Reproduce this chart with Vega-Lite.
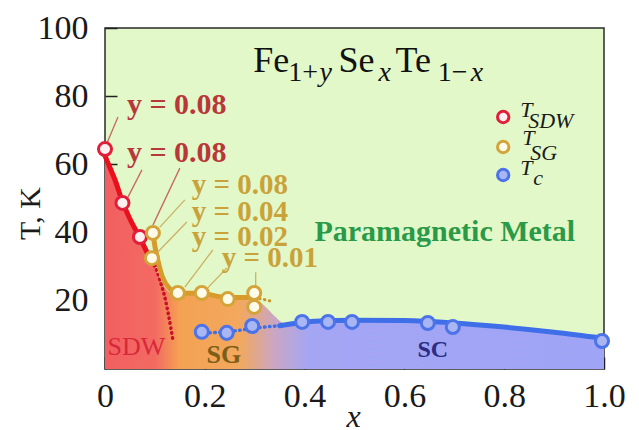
{
  "$schema": "https://vega.github.io/schema/vega-lite/v6.json",
  "width": 499,
  "height": 341,
  "autosize": {"type": "none"},
  "padding": {"left": 105, "top": 28, "right": 35, "bottom": 61},
  "background": "white",
  "config": {
    "view": {"fill": "#e2f8c8", "stroke": "#2a2a2a", "strokeWidth": 1.5},
    "font": "Liberation Serif"
  },
  "datasets": {
    "region": [
      {"x": 0, "T": 63}, {"x": 0.02, "T": 56}, {"x": 0.035, "T": 49.5}, {"x": 0.055, "T": 43},
      {"x": 0.07, "T": 38.5}, {"x": 0.085, "T": 34}, {"x": 0.1, "T": 30}, {"x": 0.112, "T": 26},
      {"x": 0.125, "T": 23}, {"x": 0.14, "T": 22}, {"x": 0.2, "T": 21.8}, {"x": 0.27, "T": 21.5},
      {"x": 0.3, "T": 20.5}, {"x": 0.32, "T": 18.5}, {"x": 0.34, "T": 15.5}, {"x": 0.36, "T": 13.5},
      {"x": 0.4, "T": 13.5}, {"x": 0.45, "T": 14.2}, {"x": 0.55, "T": 14.4}, {"x": 0.65, "T": 14},
      {"x": 0.75, "T": 13}, {"x": 0.85, "T": 11.8}, {"x": 0.95, "T": 10}, {"x": 1.0, "T": 9}
    ],
    "curves": [
      {"c": "sdw", "x": 0, "T": 62.5}, {"c": "sdw", "x": 0.01, "T": 59}, {"c": "sdw", "x": 0.02, "T": 55.5},
      {"c": "sdw", "x": 0.035, "T": 49}, {"c": "sdw", "x": 0.05, "T": 44}, {"c": "sdw", "x": 0.07, "T": 38.5},
      {"c": "sdw", "x": 0.085, "T": 34}, {"c": "sdw", "x": 0.1, "T": 30.5},
      {"c": "sdwdot", "x": 0.1, "T": 30.5}, {"c": "sdwdot", "x": 0.11, "T": 26}, {"c": "sdwdot", "x": 0.12, "T": 21},
      {"c": "sdwdot", "x": 0.127, "T": 16}, {"c": "sdwdot", "x": 0.132, "T": 12}, {"c": "sdwdot", "x": 0.136, "T": 8.5},
      {"c": "sg", "x": 0.096, "T": 40}, {"c": "sg", "x": 0.1, "T": 36}, {"c": "sg", "x": 0.105, "T": 32.5},
      {"c": "sg", "x": 0.115, "T": 27}, {"c": "sg", "x": 0.13, "T": 23.5}, {"c": "sg", "x": 0.146, "T": 22.3},
      {"c": "sg", "x": 0.19, "T": 22.2}, {"c": "sg", "x": 0.246, "T": 21}, {"c": "sg", "x": 0.3, "T": 21},
      {"c": "sgdot", "x": 0.3, "T": 21}, {"c": "sgdot", "x": 0.33, "T": 20},
      {"c": "scdot", "x": 0.19, "T": 10.5}, {"c": "scdot", "x": 0.25, "T": 11}, {"c": "scdot", "x": 0.3, "T": 12},
      {"c": "scdot", "x": 0.35, "T": 12.7},
      {"c": "sc", "x": 0.35, "T": 12.7}, {"c": "sc", "x": 0.42, "T": 14}, {"c": "sc", "x": 0.5, "T": 14.3},
      {"c": "sc", "x": 0.6, "T": 14.2}, {"c": "sc", "x": 0.7, "T": 13.5}, {"c": "sc", "x": 0.8, "T": 12.3},
      {"c": "sc", "x": 0.9, "T": 10.8}, {"c": "sc", "x": 1.0, "T": 9}
    ],
    "leaders": [
      {"g": "sdw", "x": 0.026, "T": 73.9, "x2": 0.004, "T2": 66.3},
      {"g": "sdw", "x": 0.074, "T": 58.4, "x2": 0.046, "T2": 50.4},
      {"g": "sdw", "x": 0.15, "T": 58.9, "x2": 0.096, "T2": 42.2},
      {"g": "sg", "x": 0.16, "T": 49.6, "x2": 0.11, "T2": 41.6},
      {"g": "sg", "x": 0.164, "T": 43.1, "x2": 0.106, "T2": 34.3},
      {"g": "sg", "x": 0.216, "T": 34.9, "x2": 0.16, "T2": 24.0},
      {"g": "sg", "x": 0.244, "T": 29.6, "x2": 0.206, "T2": 23.8},
      {"g": "sg", "x": 0.302, "T": 28.4, "x2": 0.302, "T2": 24.0}
    ],
    "points": [
      {"s": "SDW", "x": 0.0, "T": 64.5}, {"s": "SDW", "x": 0.035, "T": 48.7}, {"s": "SDW", "x": 0.07, "T": 38.7},
      {"s": "SG", "x": 0.096, "T": 39.9}, {"s": "SG", "x": 0.094, "T": 32.5}, {"s": "SG", "x": 0.146, "T": 22.3},
      {"s": "SG", "x": 0.194, "T": 22.3}, {"s": "SG", "x": 0.246, "T": 20.5}, {"s": "SG", "x": 0.299, "T": 22.3},
      {"s": "SG", "x": 0.299, "T": 18.2},
      {"s": "Tc", "x": 0.194, "T": 10.9}, {"s": "Tc", "x": 0.244, "T": 10.6}, {"s": "Tc", "x": 0.295, "T": 12.6},
      {"s": "Tc", "x": 0.395, "T": 13.8}, {"s": "Tc", "x": 0.447, "T": 13.8}, {"s": "Tc", "x": 0.495, "T": 13.8},
      {"s": "Tc", "x": 0.647, "T": 13.5}, {"s": "Tc", "x": 0.697, "T": 12.3}, {"s": "Tc", "x": 0.996, "T": 8.2}
    ],
    "keys": [
      {"s": "SDW", "x": 0.798, "T": 73.9},
      {"s": "SG", "x": 0.798, "T": 65.1},
      {"s": "Tc", "x": 0.798, "T": 56.9}
    ],
    "keyText": [
      {"part": "main", "label": "T", "x": 0.832, "T": 73.9},
      {"part": "sub", "label": "SDW", "x": 0.848, "T": 70.7},
      {"part": "main", "label": "T", "x": 0.836, "T": 65.7},
      {"part": "sub", "label": "SG", "x": 0.852, "T": 61.3},
      {"part": "main", "label": "T", "x": 0.832, "T": 56.9},
      {"part": "sub", "label": "c", "x": 0.858, "T": 54.0}
    ],
    "doping": [
      {"g": "sdw", "label": "y = 0.08", "x": 0.044, "T": 77.4},
      {"g": "sdw", "label": "y = 0.08", "x": 0.044, "T": 63.3},
      {"g": "sg", "label": "y = 0.08", "x": 0.174, "T": 54.0},
      {"g": "sg", "label": "y = 0.04", "x": 0.174, "T": 46.0},
      {"g": "sg", "label": "y = 0.02", "x": 0.174, "T": 38.7},
      {"g": "sg", "label": "y = 0.01", "x": 0.234, "T": 32.5}
    ],
    "formula": [
      {"part": "main", "label": "Fe", "x": 0.297, "T": 87.1},
      {"part": "sub", "label": "1+", "x": 0.367, "T": 84.5},
      {"part": "subi", "label": "y", "x": 0.43, "T": 84.5},
      {"part": "main", "label": "Se", "x": 0.468, "T": 87.1},
      {"part": "subi", "label": "x", "x": 0.548, "T": 84.5},
      {"part": "main", "label": "Te", "x": 0.582, "T": 87.1},
      {"part": "sub", "label": "1\u2212", "x": 0.667, "T": 84.5},
      {"part": "subi", "label": "x", "x": 0.733, "T": 84.5}
    ],
    "phases": [
      {"p": "pm", "label": "Paramagnetic Metal", "x": 0.681, "T": 40.2},
      {"p": "sdw", "label": "SDW", "x": 0.063, "T": 6.5},
      {"p": "sg", "label": "SG", "x": 0.238, "T": 4.1},
      {"p": "sc", "label": "SC", "x": 0.657, "T": 5.6}
    ]
  },
  "encoding": {
    "x": {
      "field": "x", "type": "quantitative",
      "scale": {"domain": [0, 1], "nice": false, "zero": false},
      "axis": {
        "values": [0, 0.2, 0.4, 0.6, 0.8, 1.0],
        "labelExpr": "datum.value == 0 ? '0' : format(datum.value, '.1f')",
        "grid": false, "domain": false,
        "tickSize": -12, "tickColor": "#222", "tickWidth": 1.5,
        "labelFont": "Liberation Serif", "labelFontSize": 34, "labelColor": "#1a1a1a",
        "labelPadding": 22, "labelFlush": false,
        "title": "x", "titleFont": "Liberation Serif", "titleFontSize": 32,
        "titleFontStyle": "italic", "titleFontWeight": "normal", "titleColor": "#1a1a1a",
        "titleX": 248, "titleY": 57, "titleBaseline": "alphabetic", "titleAnchor": "start", "titleAlign": "center"
      }
    },
    "y": {
      "field": "T", "type": "quantitative",
      "scale": {"domain": [0, 100], "nice": false},
      "axis": {
        "values": [20, 40, 60, 80, 100],
        "grid": false, "domain": false,
        "tickSize": -12, "tickColor": "#222", "tickWidth": 1.5,
        "labelFont": "Liberation Serif", "labelFontSize": 34, "labelColor": "#1a1a1a",
        "labelPadding": 29, "labelFlush": false,
        "title": "T, K", "titleFont": "Liberation Serif", "titleFontSize": 30,
        "titleFontWeight": "normal", "titleColor": "#1a1a1a",
        "titleX": -75, "titleY": 185, "titleAngle": -90, "titleAlign": "center", "titleBaseline": "middle", "titleAnchor": "start"
      }
    }
  },
  "layer": [
    {
      "data": {"name": "region"},
      "mark": {
        "type": "area", "interpolate": "monotone",
        "fill": {
          "gradient": "linear", "x1": 0, "y1": 0, "x2": 1, "y2": 0,
          "stops": [
            {"offset": 0, "color": "#f25f60"},
            {"offset": 0.1, "color": "#f36a62"},
            {"offset": 0.15, "color": "#f4a252"},
            {"offset": 0.27, "color": "#f2a85e"},
            {"offset": 0.34, "color": "#c9a6c4"},
            {"offset": 0.41, "color": "#a4a6f4"},
            {"offset": 1, "color": "#a0a4f6"}
          ]
        }
      }
    },
    {
      "data": {"name": "curves"},
      "transform": [{"filter": "datum.c == 'sdw'"}],
      "mark": {"type": "line", "interpolate": "monotone", "color": "#e8101c", "strokeWidth": 5, "strokeCap": "round"}
    },
    {
      "data": {"name": "curves"},
      "transform": [{"filter": "datum.c == 'sdwdot'"}],
      "mark": {"type": "line", "interpolate": "monotone", "color": "#c8102a", "strokeWidth": 3.5, "strokeDash": [0.5, 4.5], "strokeCap": "round"}
    },
    {
      "data": {"name": "curves"},
      "transform": [{"filter": "datum.c == 'sg'"}],
      "mark": {"type": "line", "interpolate": "monotone", "color": "#d99a2c", "strokeWidth": 5, "strokeCap": "round"}
    },
    {
      "data": {"name": "curves"},
      "transform": [{"filter": "datum.c == 'sgdot'"}],
      "mark": {"type": "line", "interpolate": "monotone", "color": "#c9952a", "strokeWidth": 3, "strokeDash": [0.5, 4.5], "strokeCap": "round"}
    },
    {
      "data": {"name": "curves"},
      "transform": [{"filter": "datum.c == 'scdot'"}],
      "mark": {"type": "line", "interpolate": "monotone", "color": "#3e6ee8", "strokeWidth": 3.5, "strokeDash": [0.5, 4.5], "strokeCap": "round"}
    },
    {
      "data": {"name": "curves"},
      "transform": [{"filter": "datum.c == 'sc'"}],
      "mark": {"type": "line", "interpolate": "monotone", "color": "#3e6ee8", "strokeWidth": 5, "strokeCap": "round"}
    },
    {
      "data": {"name": "leaders"},
      "transform": [{"filter": "datum.g == 'sdw'"}],
      "mark": {"type": "rule", "color": "#c46a5c", "strokeWidth": 1.3},
      "encoding": {"x2": {"field": "x2"}, "y2": {"field": "T2"}}
    },
    {
      "data": {"name": "leaders"},
      "transform": [{"filter": "datum.g == 'sg'"}],
      "mark": {"type": "rule", "color": "#cdb064", "strokeWidth": 1.3},
      "encoding": {"x2": {"field": "x2"}, "y2": {"field": "T2"}}
    },
    {
      "data": {"name": "points"},
      "mark": {"type": "point", "shape": "circle", "size": 170, "strokeWidth": 3, "opacity": 1, "filled": false},
      "encoding": {
        "stroke": {"field": "s", "type": "nominal", "scale": {"domain": ["SDW", "SG", "Tc"], "range": ["#e0203a", "#d4a43a", "#4c74e8"]}, "legend": null},
        "fill": {"field": "s", "type": "nominal", "scale": {"domain": ["SDW", "SG", "Tc"], "range": ["#fff0f0", "#fffbe8", "#a9b6f4"]}, "legend": null}
      }
    },
    {
      "data": {"name": "keys"},
      "mark": {"type": "point", "shape": "circle", "size": 130, "strokeWidth": 3, "opacity": 1, "filled": false},
      "encoding": {
        "stroke": {"field": "s", "type": "nominal", "legend": null},
        "fill": {"field": "s", "type": "nominal", "legend": null}
      }
    },
    {
      "data": {"name": "keyText"},
      "transform": [{"filter": "datum.part == 'main'"}],
      "mark": {"type": "text", "align": "left", "baseline": "alphabetic", "font": "Liberation Serif", "fontSize": 22, "fontStyle": "italic", "color": "#1a1a1a"},
      "encoding": {"text": {"field": "label"}}
    },
    {
      "data": {"name": "keyText"},
      "transform": [{"filter": "datum.part == 'sub'"}],
      "mark": {"type": "text", "align": "left", "baseline": "alphabetic", "font": "Liberation Serif", "fontSize": 22, "fontStyle": "italic", "color": "#1a1a1a"},
      "encoding": {"text": {"field": "label"}}
    },
    {
      "data": {"name": "doping"},
      "transform": [{"filter": "datum.g == 'sdw'"}],
      "mark": {"type": "text", "align": "left", "baseline": "middle", "font": "Liberation Serif", "fontSize": 30, "fontWeight": "bold", "color": "#b8373a"},
      "encoding": {"text": {"field": "label"}}
    },
    {
      "data": {"name": "doping"},
      "transform": [{"filter": "datum.g == 'sg'"}],
      "mark": {"type": "text", "align": "left", "baseline": "middle", "font": "Liberation Serif", "fontSize": 29, "fontWeight": "bold", "color": "#c9a33a"},
      "encoding": {"text": {"field": "label"}}
    },
    {
      "data": {"name": "formula"},
      "transform": [{"filter": "datum.part == 'main'"}],
      "mark": {"type": "text", "align": "left", "baseline": "alphabetic", "font": "Liberation Serif", "fontSize": 36, "color": "#111111"},
      "encoding": {"text": {"field": "label"}}
    },
    {
      "data": {"name": "formula"},
      "transform": [{"filter": "datum.part == 'sub'"}],
      "mark": {"type": "text", "align": "left", "baseline": "alphabetic", "font": "Liberation Serif", "fontSize": 28, "color": "#111111"},
      "encoding": {"text": {"field": "label"}}
    },
    {
      "data": {"name": "formula"},
      "transform": [{"filter": "datum.part == 'subi'"}],
      "mark": {"type": "text", "align": "left", "baseline": "alphabetic", "font": "Liberation Serif", "fontSize": 28, "fontStyle": "italic", "color": "#111111"},
      "encoding": {"text": {"field": "label"}}
    },
    {
      "data": {"name": "phases"},
      "transform": [{"filter": "datum.p == 'pm'"}],
      "mark": {"type": "text", "align": "center", "baseline": "middle", "font": "Liberation Serif", "fontSize": 30, "fontWeight": "bold", "color": "#2a9a48"},
      "encoding": {"text": {"field": "label"}}
    },
    {
      "data": {"name": "phases"},
      "transform": [{"filter": "datum.p == 'sdw'"}],
      "mark": {"type": "text", "align": "center", "baseline": "middle", "font": "Liberation Serif", "fontSize": 26, "color": "#d8283c"},
      "encoding": {"text": {"field": "label"}}
    },
    {
      "data": {"name": "phases"},
      "transform": [{"filter": "datum.p == 'sg'"}],
      "mark": {"type": "text", "align": "center", "baseline": "middle", "font": "Liberation Serif", "fontSize": 26, "fontWeight": "bold", "color": "#7d5e18"},
      "encoding": {"text": {"field": "label"}}
    },
    {
      "data": {"name": "phases"},
      "transform": [{"filter": "datum.p == 'sc'"}],
      "mark": {"type": "text", "align": "center", "baseline": "middle", "font": "Liberation Serif", "fontSize": 24, "fontWeight": "bold", "color": "#2c2c80"},
      "encoding": {"text": {"field": "label"}}
    }
  ]
}
